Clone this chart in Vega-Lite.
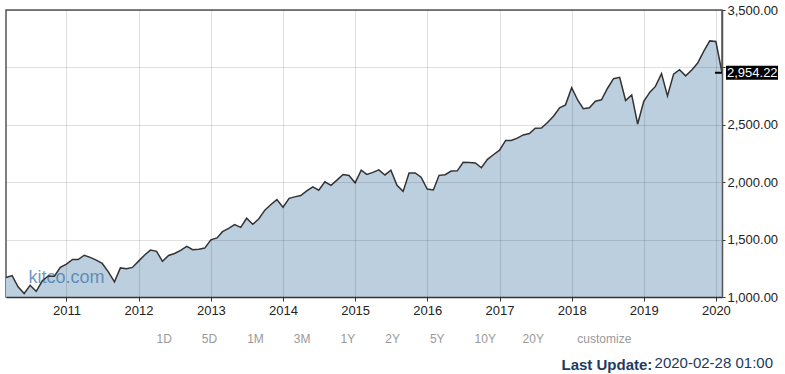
{
  "$schema": "https://vega.github.io/schema/vega-lite/v6.json",
  "width": 716,
  "height": 287,
  "autosize": {"type": "none"},
  "padding": {"left": 6, "top": 10, "right": 63, "bottom": 77},
  "background": "white",
  "config": {
    "font": "Liberation Sans",
    "view": {"stroke": "#555555", "strokeWidth": 1.5}
  },
  "title": {
    "text": "2020-02-28 01:00",
    "orient": "bottom",
    "anchor": "end",
    "frame": "group",
    "offset": 0,
    "dx": 51,
    "dy": -16,
    "fontSize": 15,
    "fontWeight": "normal",
    "color": "#23395b",
    "font": "Liberation Sans"
  },
  "data": {
    "values": [
      {"date": "2010-03-01", "close": 1169.43}, {"date": "2010-04-01", "close": 1186.69}, {"date": "2010-05-01", "close": 1089.41}, {"date": "2010-06-01", "close": 1030.71}, {"date": "2010-07-01", "close": 1101.6}, {"date": "2010-08-01", "close": 1049.33}, {"date": "2010-09-01", "close": 1141.2}, {"date": "2010-10-01", "close": 1183.26}, {"date": "2010-11-01", "close": 1180.55}, {"date": "2010-12-01", "close": 1257.64},
      {"date": "2011-01-01", "close": 1286.12}, {"date": "2011-02-01", "close": 1327.22}, {"date": "2011-03-01", "close": 1325.83}, {"date": "2011-04-01", "close": 1363.61}, {"date": "2011-05-01", "close": 1345.2}, {"date": "2011-06-01", "close": 1320.64}, {"date": "2011-07-01", "close": 1292.28}, {"date": "2011-08-01", "close": 1218.89}, {"date": "2011-09-01", "close": 1131.42}, {"date": "2011-10-01", "close": 1253.3}, {"date": "2011-11-01", "close": 1246.96}, {"date": "2011-12-01", "close": 1257.6},
      {"date": "2012-01-01", "close": 1312.41}, {"date": "2012-02-01", "close": 1365.68}, {"date": "2012-03-01", "close": 1408.47}, {"date": "2012-04-01", "close": 1397.91}, {"date": "2012-05-01", "close": 1310.33}, {"date": "2012-06-01", "close": 1362.16}, {"date": "2012-07-01", "close": 1379.32}, {"date": "2012-08-01", "close": 1406.58}, {"date": "2012-09-01", "close": 1440.67}, {"date": "2012-10-01", "close": 1412.16}, {"date": "2012-11-01", "close": 1416.18}, {"date": "2012-12-01", "close": 1426.19},
      {"date": "2013-01-01", "close": 1498.11}, {"date": "2013-02-01", "close": 1514.68}, {"date": "2013-03-01", "close": 1569.19}, {"date": "2013-04-01", "close": 1597.57}, {"date": "2013-05-01", "close": 1630.74}, {"date": "2013-06-01", "close": 1606.28}, {"date": "2013-07-01", "close": 1685.73}, {"date": "2013-08-01", "close": 1632.97}, {"date": "2013-09-01", "close": 1681.55}, {"date": "2013-10-01", "close": 1756.54}, {"date": "2013-11-01", "close": 1805.81}, {"date": "2013-12-01", "close": 1848.36},
      {"date": "2014-01-01", "close": 1782.59}, {"date": "2014-02-01", "close": 1859.45}, {"date": "2014-03-01", "close": 1872.34}, {"date": "2014-04-01", "close": 1883.95}, {"date": "2014-05-01", "close": 1923.57}, {"date": "2014-06-01", "close": 1960.23}, {"date": "2014-07-01", "close": 1930.67}, {"date": "2014-08-01", "close": 2003.37}, {"date": "2014-09-01", "close": 1972.29}, {"date": "2014-10-01", "close": 2018.05}, {"date": "2014-11-01", "close": 2067.56}, {"date": "2014-12-01", "close": 2058.9},
      {"date": "2015-01-01", "close": 1994.99}, {"date": "2015-02-01", "close": 2104.5}, {"date": "2015-03-01", "close": 2067.89}, {"date": "2015-04-01", "close": 2085.51}, {"date": "2015-05-01", "close": 2107.39}, {"date": "2015-06-01", "close": 2063.11}, {"date": "2015-07-01", "close": 2103.84}, {"date": "2015-08-01", "close": 1972.18}, {"date": "2015-09-01", "close": 1920.03}, {"date": "2015-10-01", "close": 2079.36}, {"date": "2015-11-01", "close": 2080.41}, {"date": "2015-12-01", "close": 2043.94},
      {"date": "2016-01-01", "close": 1940.24}, {"date": "2016-02-01", "close": 1932.23}, {"date": "2016-03-01", "close": 2059.74}, {"date": "2016-04-01", "close": 2065.3}, {"date": "2016-05-01", "close": 2096.95}, {"date": "2016-06-01", "close": 2098.86}, {"date": "2016-07-01", "close": 2173.6}, {"date": "2016-08-01", "close": 2170.95}, {"date": "2016-09-01", "close": 2168.27}, {"date": "2016-10-01", "close": 2126.15}, {"date": "2016-11-01", "close": 2198.81}, {"date": "2016-12-01", "close": 2238.83},
      {"date": "2017-01-01", "close": 2278.87}, {"date": "2017-02-01", "close": 2363.64}, {"date": "2017-03-01", "close": 2362.72}, {"date": "2017-04-01", "close": 2384.2}, {"date": "2017-05-01", "close": 2411.8}, {"date": "2017-06-01", "close": 2423.41}, {"date": "2017-07-01", "close": 2470.3}, {"date": "2017-08-01", "close": 2471.65}, {"date": "2017-09-01", "close": 2519.36}, {"date": "2017-10-01", "close": 2575.26}, {"date": "2017-11-01", "close": 2647.58}, {"date": "2017-12-01", "close": 2673.61},
      {"date": "2018-01-01", "close": 2823.81}, {"date": "2018-02-01", "close": 2713.83}, {"date": "2018-03-01", "close": 2640.87}, {"date": "2018-04-01", "close": 2648.05}, {"date": "2018-05-01", "close": 2705.27}, {"date": "2018-06-01", "close": 2718.37}, {"date": "2018-07-01", "close": 2816.29}, {"date": "2018-08-01", "close": 2901.52}, {"date": "2018-09-01", "close": 2913.98}, {"date": "2018-10-01", "close": 2711.74}, {"date": "2018-11-01", "close": 2760.17}, {"date": "2018-12-01", "close": 2506.85},
      {"date": "2019-01-01", "close": 2704.1}, {"date": "2019-02-01", "close": 2784.49}, {"date": "2019-03-01", "close": 2834.4}, {"date": "2019-04-01", "close": 2945.83}, {"date": "2019-05-01", "close": 2752.06}, {"date": "2019-06-01", "close": 2941.76}, {"date": "2019-07-01", "close": 2980.38}, {"date": "2019-08-01", "close": 2926.46}, {"date": "2019-09-01", "close": 2976.74}, {"date": "2019-10-01", "close": 3037.56}, {"date": "2019-11-01", "close": 3140.98}, {"date": "2019-12-01", "close": 3230.78},
      {"date": "2020-01-01", "close": 3225.52}, {"date": "2020-02-01", "close": 2954.22}
    ]
  },
  "encoding": {
    "x": {
      "field": "date",
      "type": "temporal",
      "scale": {"nice": false, "padding": 0},
      "axis": {
        "zindex": 1,
        "format": "%Y",
        "tickCount": {"interval": "year", "step": 1},
        "grid": true,
        "gridColor": "#000000",
        "gridOpacity": 0.12,
        "domainColor": "#333333",
        "domainWidth": 1.5,
        "tickColor": "#333333",
        "tickSize": 4,
        "labelFontSize": 13,
        "labelColor": "#222222",
        "labelPadding": 3,
        "labelFont": "Liberation Sans",
        "labelOverlap": false,
        "title": "1D\u00a0\u00a0\u00a0\u00a0\u00a0\u00a0\u00a0\u00a0\u00a05D\u00a0\u00a0\u00a0\u00a0\u00a0\u00a0\u00a0\u00a0\u00a01M\u00a0\u00a0\u00a0\u00a0\u00a0\u00a0\u00a0\u00a0\u00a03M\u00a0\u00a0\u00a0\u00a0\u00a0\u00a0\u00a0\u00a0\u00a01Y\u00a0\u00a0\u00a0\u00a0\u00a0\u00a0\u00a0\u00a0\u00a02Y\u00a0\u00a0\u00a0\u00a0\u00a0\u00a0\u00a0\u00a0\u00a05Y\u00a0\u00a0\u00a0\u00a0\u00a0\u00a0\u00a0\u00a0\u00a010Y\u00a0\u00a0\u00a0\u00a0\u00a0\u00a0\u00a0\u00a020Y\u00a0\u00a0\u00a0\u00a0\u00a0\u00a0\u00a0\u00a0\u00a0\u00a0customize",
        "titleFont": "Liberation Sans",
        "titleFontSize": 12,
        "titleFontWeight": "normal",
        "titleColor": "#999999",
        "titleAlign": "left",
        "titleAnchor": "start",
        "titleBaseline": "middle",
        "titleX": 150,
        "titleY": 41
      }
    },
    "y": {
      "field": "close",
      "type": "quantitative",
      "scale": {"domain": [1000, 3500], "nice": false, "zero": false},
      "axis": {
        "orient": "right",
        "zindex": 1,
        "values": [1000, 1500, 2000, 2500, 3000, 3500],
        "labelExpr": "datum.value == 3000 ? '' : format(datum.value, ',.2f')",
        "grid": true,
        "gridColor": "#000000",
        "gridOpacity": 0.12,
        "domainColor": "#555555",
        "domainWidth": 1.5,
        "tickColor": "#333333",
        "tickSize": 3,
        "labelFontSize": 13,
        "labelColor": "#222222",
        "labelPadding": 2,
        "labelFont": "Liberation Sans",
        "labelOverlap": false,
        "title": "Last Update:",
        "titleAngle": 0,
        "titleX": -161,
        "titleY": 354,
        "titleAlign": "left",
        "titleBaseline": "middle",
        "titleFont": "Liberation Sans",
        "titleFontSize": 15,
        "titleFontWeight": "bold",
        "titleColor": "#1d3a5f"
      }
    }
  },
  "layer": [
    {"mark": {"type": "area", "color": "#bccfdf", "opacity": 1, "clip": true}},
    {
      "transform": [
        {"window": [{"op": "row_number", "as": "r"}], "sort": [{"field": "date", "order": "ascending"}]},
        {"filter": "datum.r == 1"}
      ],
      "mark": {"type": "text", "text": "kitco.com", "font": "Liberation Sans", "fontSize": 18, "color": "#3d78b0", "opacity": 0.75, "align": "center", "baseline": "middle"},
      "encoding": {
        "x": {"datum": {"year": 2011, "month": 1, "date": 1}, "type": "temporal"},
        "y": {"datum": 1165, "type": "quantitative"}
      }
    },
    {"mark": {"type": "line", "color": "#333333", "strokeWidth": 1.5}},
    {
      "transform": [
        {"window": [{"op": "row_number", "as": "r"}], "sort": [{"field": "date", "order": "descending"}]},
        {"filter": "datum.r == 1"}
      ],
      "mark": {"type": "point", "shape": "M-1,-0.14L0,-0.14L0,0.14L-1,0.14Z M0.57,-1L8,-1L8,1L0.57,1Z", "size": 196, "filled": true, "color": "#000000", "opacity": 1, "strokeWidth": 0}
    },
    {
      "transform": [
        {"window": [{"op": "row_number", "as": "r"}], "sort": [{"field": "date", "order": "descending"}]},
        {"filter": "datum.r == 1"}
      ],
      "mark": {"type": "text", "align": "left", "baseline": "middle", "dx": 5, "color": "#ffffff", "font": "Liberation Sans", "fontSize": 13},
      "encoding": {"text": {"field": "close", "type": "quantitative", "format": ",.2f"}}
    }
  ]
}
